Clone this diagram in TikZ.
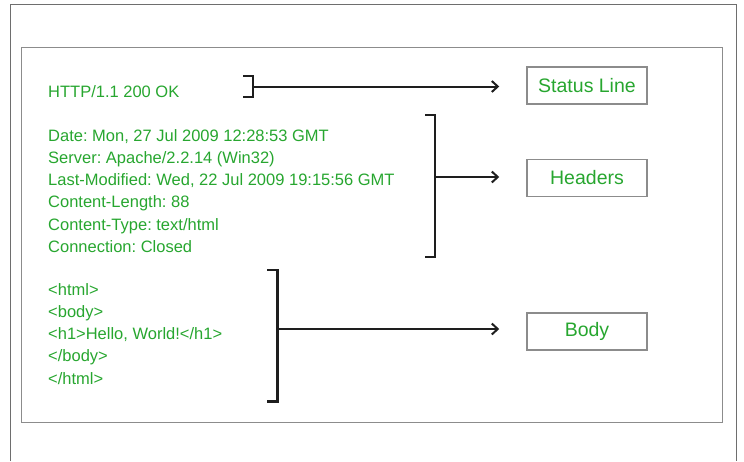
\documentclass[tikz,border=0pt]{standalone}
\usepackage{fontspec}
\setmainfont{Liberation Sans}
\frenchspacing
\usetikzlibrary{arrows.meta, positioning}
\definecolor{hgreen}{HTML}{27A62F}
\definecolor{hframe}{HTML}{6E6E6E}
\definecolor{hgray}{HTML}{8C8C8C}
\definecolor{hdark}{HTML}{1E1E1E}
\tikzset{
  msgtext/.style={anchor=north west, inner sep=0pt, align=left, text=hgreen,
                  font=\fontsize{16.5}{22.2}\selectfont},
  partbox/.style={draw=hgray, line width=1.5pt, minimum width=120pt, minimum height=37pt,
                  inner sep=0pt, text=hgreen, font=\fontsize{19.5}{22}\selectfont},
  brkt/.style={hdark, line width=2.4pt},
  arr/.style={-{Straight Barb[length=6pt,width=11pt]}, line width=2pt, hdark, shorten >=27pt},
}

\begin{document}
\begin{tikzpicture}[x=1pt, y=-1pt]
  \useasboundingbox (0,0) rectangle (744,461);

  %% ── Frames ──
  \draw[hframe, line width=1.2pt] (10.5,461) -- (10.5,4.5) -- (736.5,4.5) -- (736.5,461);
  \draw[hgray, line width=1.5pt] (21.5,47.3) rectangle (722.5,422.7);

  %% ── Message text ──
  \node[msgtext] (status-txt) at (48,85) {HTTP/1.1 200 OK};
  \node[msgtext] (header-txt) at (48,129.2) {Date: Mon, 27 Jul 2009 12:28:53 GMT\\
    Server: Apache/2.2.14 (Win32)\\
    Last-Modified: Wed, 22 Jul 2009 19:15:56 GMT\\
    Content-Length: 88\\
    Content-Type: text/html\\
    Connection: Closed};
  \node[msgtext] (body-txt) at (48,283.2) {<html>\\
    <body>\\
    <h1>Hello, World!</h1>\\
    </body>\\
    </html>};

  %% ── Part labels ──
  \node[partbox] (status) at (587,85.5) {Status Line};
  \node[partbox, below=54pt of status] (headers) {Headers};
  \node[partbox, below=115pt of headers] (body) {Body};

  %% ── Brackets ──
  \draw[brkt] (243,76) -- (253,76) -- (253,97) -- (243,97);
  \coordinate (sbrk) at (253,86.5);
  \draw[brkt] (425,115) -- (435,115) -- (435,257) -- (425,257);
  \coordinate (hbrk) at (435,177);
  \draw[brkt] (267,270) -- (277.5,270) -- (277.5,401.5) -- (267,401.5);
  \coordinate (bbrk) at (277.5,329);

  %% ── Arrows ──
  \draw[arr] (sbrk) -- (sbrk -| status.west);
  \draw[arr] (hbrk) -- (hbrk -| headers.west);
  \draw[arr] (bbrk) -- (bbrk -| body.west);
\end{tikzpicture}
\end{document}
